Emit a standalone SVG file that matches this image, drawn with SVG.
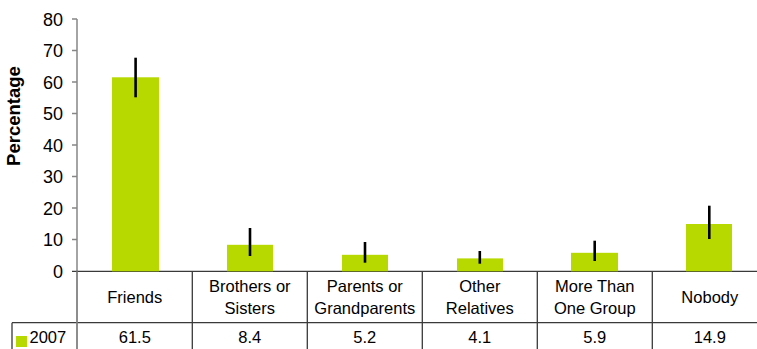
<svg xmlns="http://www.w3.org/2000/svg" width="757" height="349" viewBox="0 0 757 349">
<style>
text{font-family:"Liberation Sans",Arial,sans-serif;fill:#000}
.tick{font-size:18px;text-anchor:end}
.cat{font-size:16.5px;text-anchor:middle}
.val{font-size:16.5px;text-anchor:middle}
.bar{fill:#B7D900}
.err{stroke:#000;stroke-width:2.6}
.axis{stroke:#868686;stroke-width:1.5;fill:none}
.grid{stroke:#3a3a3a;stroke-width:1.3;fill:none}
</style>
<rect width="757" height="349" fill="#fff"/>
<g id="y-axis">
<path class="axis" d="M77 19V349M72 19H77M72 50.5H77M72 82H77M72 113.5H77M72 145H77M72 176.5H77M72 208H77M72 239.5H77"/>
<text class="tick" x="63" y="25.5">80</text>
<text class="tick" x="63" y="57">70</text>
<text class="tick" x="63" y="88.5">60</text>
<text class="tick" x="63" y="120">50</text>
<text class="tick" x="63" y="151.5">40</text>
<text class="tick" x="63" y="183">30</text>
<text class="tick" x="63" y="214.5">20</text>
<text class="tick" x="63" y="246">10</text>
<text class="tick" x="63" y="277.5">0</text>
<text x="20" y="116" font-size="18.5" font-weight="bold" text-anchor="middle" transform="rotate(-90 20 116)">Percentage</text>
</g>
<g id="table">
<path class="grid" d="M72 271.3H757M12 322.7H757M12 322.7V349M192.3 271.3V349M307.3 271.3V349M422.3 271.3V349M537.3 271.3V349M652.3 271.3V349"/>
<path class="axis" d="M77 271.3V349"/>
</g>
<g id="bar-friends">
<rect class="bar" x="112" y="77.3" width="47" height="194"/>
<line class="err" x1="135.6" y1="57.7" x2="135.6" y2="97.3"/>
<text class="cat" x="134.8" y="303">Friends</text>
<text class="val" x="134.8" y="343">61.5</text>
</g>
<g id="bar-siblings">
<rect class="bar" x="227" y="244.8" width="46" height="26.5"/>
<line class="err" x1="250" y1="228" x2="250" y2="256"/>
<text class="cat" x="249.8" y="292">Brothers or</text>
<text class="cat" x="249.8" y="314">Sisters</text>
<text class="val" x="249.8" y="343">8.4</text>
</g>
<g id="bar-parents">
<rect class="bar" x="342" y="254.8" width="46" height="16.5"/>
<line class="err" x1="365" y1="242" x2="365" y2="262.7"/>
<text class="cat" x="364.8" y="292">Parents or</text>
<text class="cat" x="364.8" y="314">Grandparents</text>
<text class="val" x="364.8" y="343">5.2</text>
</g>
<g id="bar-relatives">
<rect class="bar" x="457" y="258.4" width="46" height="12.9"/>
<line class="err" x1="479.8" y1="251" x2="479.8" y2="263.7"/>
<text class="cat" x="479.8" y="292">Other</text>
<text class="cat" x="479.8" y="314">Relatives</text>
<text class="val" x="479.8" y="343">4.1</text>
</g>
<g id="bar-group">
<rect class="bar" x="571" y="252.8" width="47" height="18.5"/>
<line class="err" x1="594.7" y1="240.7" x2="594.7" y2="261"/>
<text class="cat" x="594.8" y="292">More Than</text>
<text class="cat" x="594.8" y="314">One Group</text>
<text class="val" x="594.8" y="343">5.9</text>
</g>
<g id="bar-nobody">
<rect class="bar" x="686" y="224" width="46" height="47.3"/>
<line class="err" x1="709.3" y1="205.7" x2="709.3" y2="239"/>
<text class="cat" x="709.8" y="303">Nobody</text>
<text class="val" x="709.8" y="343">14.9</text>
</g>
<g id="legend">
<rect class="bar" x="16" y="336" width="11" height="11"/>
<text x="29.5" y="343" font-size="16.5">2007</text>
</g>
</svg>
